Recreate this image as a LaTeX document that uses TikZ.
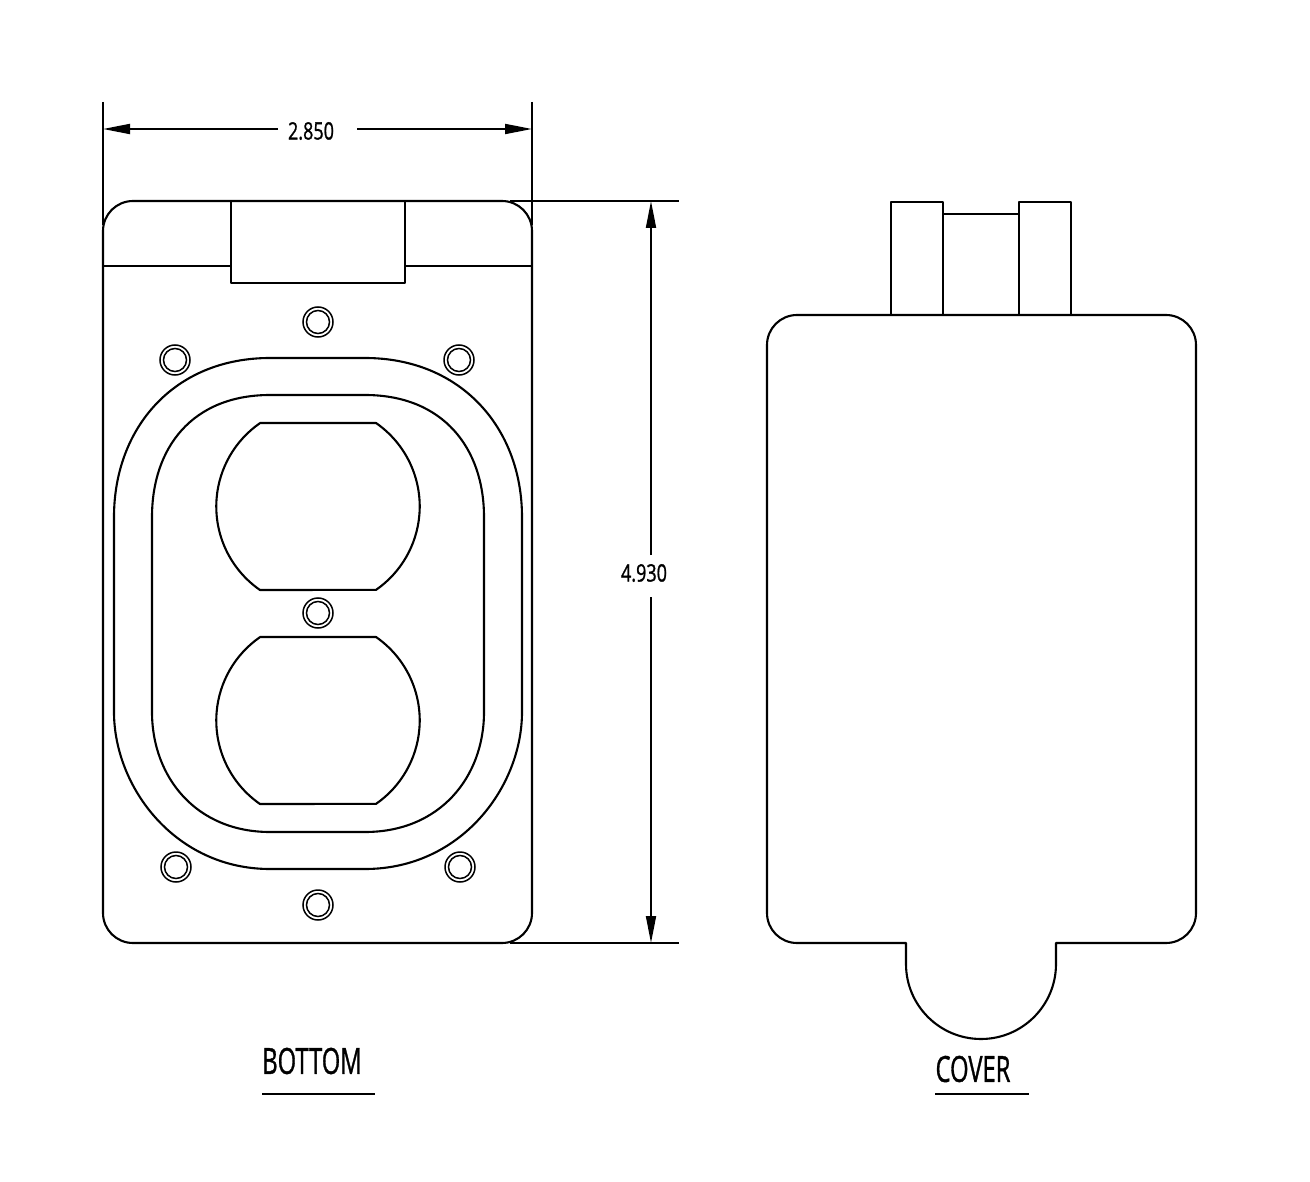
\documentclass[tikz,border=0pt]{standalone}
\usepackage{fontspec}
\setmainfont[AutoFakeBold=1.2]{Open Sans}
\usetikzlibrary{arrows.meta}
\tikzset{
  part/.style={line width=2.1pt,line join=round,draw=black},
  thin part/.style={line width=1.9pt,draw=black},
  dimline/.style={line width=1.9pt,draw=black,-{Triangle[length=27pt,width=10pt]}},
  extline/.style={line width=1.7pt,draw=black},
  dimtext/.style={inner sep=0pt,font=\bfseries\fontsize{24}{24}\selectfont},
  titletext/.style={inner sep=0pt,font=\bfseries\fontsize{36}{36}\selectfont},
  screw/.pic={\draw[line width=1.5pt] (0,0) circle[radius=15pt]; \draw[line width=1.5pt] (0,0) circle[radius=11.5pt];}
}
\begin{document}
\begin{tikzpicture}[x=1pt,y=-1pt]
\useasboundingbox (0,0) rectangle (1310,1182);
% bottom plate
\draw[part] (133,201) -- (502,201) arc[start angle=90,end angle=0,x radius=30pt,y radius=30pt] -- (532,913) arc[start angle=0,end angle=-90,x radius=30pt,y radius=30pt] -- (133,943) arc[start angle=-90,end angle=-180,x radius=30pt,y radius=30pt] -- (103,231) arc[start angle=180,end angle=90,x radius=30pt,y radius=30pt] -- cycle;
\draw[thin part] (103,266) -- (231,266) (405,266) -- (532,266);
\draw[part] (231,201) -- (231,283) -- (405,283) -- (405,201);
% gasket ovals
\draw[part] (270,358) -- (365,358) .. controls (461,358) and (522,428) .. (522,517) -- (522,712) .. controls (522,787) and (461,869) .. (365,869) -- (270,869) .. controls (175,869) and (114,787) .. (114,712) -- (114,517) .. controls (114,428) and (174,358) .. (270,358) -- cycle;
\draw[part] (270,395) -- (365,395) .. controls (443,395) and (484,448) .. (484,517) -- (484,712) .. controls (484,777) and (440,832) .. (365,832) -- (270,832) .. controls (196,832) and (152,777) .. (152,712) -- (152,517) .. controls (152,448) and (192,395) .. (270,395) -- cycle;
% outlets
\foreach \cy in {506.5,720.5}{
  \draw[part] (260,\cy-83.5) -- (376,\cy-83.5) arc[start angle=55.3,end angle=-55.3,radius=101.5pt] -- (260,\cy+83.5) arc[start angle=235.3,end angle=124.7,radius=101.5pt] -- cycle;
}
% screws
\path (318,322) pic {screw} (175,360) pic {screw} (459,360) pic {screw} (318,613) pic {screw} (176,867) pic {screw} (460,867) pic {screw} (318,905) pic {screw};
% cover
\draw[part] (797,315) -- (1166,315) arc[start angle=90,end angle=0,radius=30pt] -- (1196,913) arc[start angle=0,end angle=-90,radius=30pt] -- (1056,943) -- (1056,964) arc[start angle=0,end angle=180,x radius=75pt,y radius=-75pt] -- (906,943) -- (797,943) arc[start angle=-90,end angle=-180,radius=30pt] -- (767,345) arc[start angle=180,end angle=90,radius=30pt] -- cycle;
\draw[part] (891,315) -- (891,202) -- (943,202) -- (943,315);
\draw[part] (1019,315) -- (1019,202) -- (1071,202) -- (1071,315);
\draw[thin part] (943,214) -- (1019,214);
% dimensions
\coordinate (wL) at (103,129); \coordinate (wR) at (532,129);
\coordinate (hT) at (651,201); \coordinate (hB) at (651,943);
\node[dimtext] (wtxt) at (311,131) {\scalebox{.75}[1]{2.850}};
\node[dimtext] (htxt) at (644,573) {\scalebox{.75}[1]{4.930}};
\coordinate (wa) at (278,129); \coordinate (wb) at (357,129);
\coordinate (ha) at (651,555); \coordinate (hb) at (651,597);
\draw[dimline] (wa) -- (wL);
\draw[dimline] (wb) -- (wR);
\draw[dimline] (ha) -- (hT);
\draw[dimline] (hb) -- (hB);
\coordinate (e1a) at (103,102); \coordinate (e1b) at (103,225);
\coordinate (e2a) at (532,102); \coordinate (e2b) at (532,225);
\coordinate (e3a) at (510,201); \coordinate (e3b) at (679,201);
\coordinate (e4a) at (510,943); \coordinate (e4b) at (679,943);
\draw[extline] (e1a) -- (e1b);
\draw[extline] (e2a) -- (e2b);
\draw[extline] (e3a) -- (e3b);
\draw[extline] (e4a) -- (e4b);
% titles
\node[titletext] (bt) at (312,1061) {\scalebox{.66}[1]{BOTTOM}};
\node[titletext] (ct) at (973,1069) {\scalebox{.66}[1]{COVER}};
\coordinate (bu1) at (262,1094); \coordinate (bu2) at (375,1094);
\coordinate (cu1) at (935,1094); \coordinate (cu2) at (1029,1094);
\draw[thin part] (bu1) -- (bu2);
\draw[thin part] (cu1) -- (cu2);
\end{tikzpicture}
\end{document}
